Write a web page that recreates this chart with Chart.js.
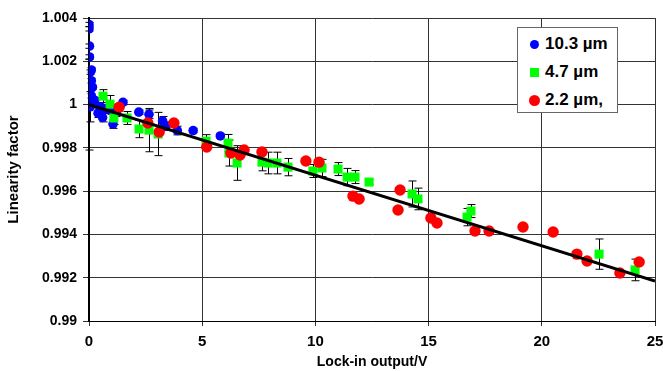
<!DOCTYPE html>
<html>
<head>
<meta charset="utf-8">
<script src="https://cdn.jsdelivr.net/npm/chart.js@4"></script>
<style>
body{margin:0;background:#fff;}
#wrap{position:relative;width:663px;height:371px;}
#legend{position:absolute;left:517px;top:27px;width:99px;height:84px;background:#fff;border:1px solid #666;
font:bold 17px "Liberation Sans",Arial,sans-serif;color:#000;}
#legend div{position:absolute;left:12px;height:20px;line-height:20px;white-space:nowrap;}
#legend span{display:inline-block;vertical-align:middle;margin-right:6px;}
</style>
</head>
<body>
<div id="wrap">
<canvas id="chart" width="663" height="371"></canvas>
<div id="legend">
<div style="top:6px"><span style="width:9px;height:9px;border-radius:50%;background:#0000ff"></span>10.3 µm</div>
<div style="top:34px"><span style="width:9px;height:9px;background:#00ff00"></span>4.7 µm</div>
<div style="top:62px"><span style="width:11px;height:11px;border-radius:50%;background:#ff0000;margin-left:-1px;margin-right:5px"></span>2.2 µm,</div>
</div>
</div>
<script>
// 10.3 um
const blueX = [0.0, 0.0, 0.02, 0.02, 0.1, 0.05, 0.1, 0.15, 0.1, 0.25, 0.02, 0.05, 0.4, 0.6, 0.5, 0.7, 0.95, 1.2, 1.06, 1.5, 2.2, 2.65, 3.25, 3.4, 3.9, 4.6, 5.8];
const blueY = [1.0037, 1.0035, 1.0027, 1.0022, 1.0016, 1.0015, 1.0011, 1.0008, 1.0004, 1.0002, 1.0000, 0.9999, 0.9996, 0.9994, 0.9999, 0.9998, 0.99975, 0.99965, 0.9991, 1.0001, 0.99965, 0.99955, 0.99925, 0.9990, 0.9988, 0.9988, 0.99855];
const blueErr = [0.0001, 0.0001, 0.0001, 0.0001, 0.0001, 0.0001, 0.0001, 0.0001, 0.0001, 0.0001, 0.0021, 0.0007, 0.0002, 0.0002, 0.0001, 0.0002, 0.0002, 0.0002, 0.0002, 0.0001, 0.0001, 0.0002, 0.0002, 0.0002, 0.0002, 0.0001, 0.0001];

// 4.7 um
const greenX = [0.62, 0.93, 1.10, 1.68, 2.21, 2.65, 3.05, 5.17, 6.14, 6.18, 6.54, 7.64, 7.91, 8.30, 8.79, 9.89, 10.29, 11.0, 11.4, 11.75, 12.37, 14.27, 14.53, 16.87, 16.7, 22.53, 24.12];
const greenY = [1.00039, 1.00002, 0.99938, 0.99938, 0.99887, 0.99882, 0.99864, 0.99831, 0.99822, 0.99776, 0.9973, 0.99734, 0.9973, 0.9973, 0.99711, 0.99693, 0.99707, 0.99702, 0.99665, 0.99665, 0.99642, 0.99587, 0.99564, 0.99508, 0.9948, 0.99309, 0.99236];
const greenErr = [0.0003, 0.0004, 0.0003, 0.0003, 0.0004, 0.001, 0.001, 0.0003, 0.0004, 0.0006, 0.0008, 0.0004, 0.0005, 0.0005, 0.0004, 0.0003, 0.0004, 0.0003, 0.0004, 0.0003, 0.0001, 0.0006, 0.0005, 0.0003, 0.0004, 0.0007, 0.0005];

// 2.2 um
const redX = [1.33, 2.6, 3.1, 3.75, 5.2, 6.27, 6.67, 6.85, 7.64, 9.58, 10.16, 11.66, 11.93, 13.74, 13.65, 15.1, 15.37, 17.05, 17.67, 19.17, 20.5, 21.55, 22.0, 23.45, 24.3];
const redY = [0.99988, 0.99915, 0.99873, 0.99915, 0.99804, 0.99776, 0.99767, 0.9979, 0.99781, 0.99739, 0.99734, 0.99577, 0.99564, 0.99605, 0.99513, 0.99476, 0.99453, 0.99416, 0.99416, 0.99434, 0.99411, 0.99309, 0.99277, 0.99222, 0.99273];

// fit line
const fitX = [0, 25];
const fitY = [1.0000, 0.99185];

const xTicks = [0, 5, 10, 15, 20, 25];
const yTicks = [0.99, 0.992, 0.994, 0.996, 0.998, 1.0, 1.002, 1.004];

const FONT = '"Liberation Sans", Arial, sans-serif';

function pts(xs, ys, errs){
  return xs.map((x, i) => ({x: x, y: ys[i], err: errs ? errs[i] : 0}));
}

/* error bars drawn with the chart's own scales */
const errorBars = {
  id: "errorBars",
  beforeDatasetsDraw(chart){
    const c = chart.ctx, xs = chart.scales.x, ys = chart.scales.y;
    c.save();
    c.strokeStyle = "#000";
    c.lineWidth = 1;
    chart.data.datasets.forEach(ds => {
      ds.data.forEach(p => {
        if(!p.err) return;
        const px = Math.round(xs.getPixelForValue(p.x)) + 0.5;
        const top = ys.getPixelForValue(p.y + p.err);
        const bot = ys.getPixelForValue(p.y - p.err);
        c.beginPath();
        c.moveTo(px, top); c.lineTo(px, bot);
        c.moveTo(px - 4, top); c.lineTo(px + 4, top);
        c.moveTo(px - 4, bot); c.lineTo(px + 4, bot);
        c.stroke();
      });
    });
    c.restore();
  }
};

new Chart(document.getElementById("chart"), {
  type: "scatter",
  data: {
    datasets: [
      {type: "line", label: "fit", data: pts(fitX, fitY), borderColor: "#000", borderWidth: 3, pointRadius: 0, order: 0},
      {label: "2.2 µm,", data: pts(redX, redY), backgroundColor: "#ff0000", borderWidth: 0, pointRadius: 5.7, order: 1},
      {label: "4.7 µm", data: pts(greenX, greenY, greenErr), backgroundColor: "#00ff00", borderWidth: 0, pointStyle: "rect", pointRadius: 6.4, order: 2},
      {label: "10.3 µm", data: pts(blueX, blueY, blueErr), backgroundColor: "#0000ff", borderWidth: 0, pointRadius: 4.8, order: 3}
    ]
  },
  options: {
    responsive: false,
    animation: false,
    layout: {padding: {left: 0, right: 0, top: 18, bottom: 0}},
    plugins: {legend: {display: false}, tooltip: {enabled: false}},
    scales: {
      x: {
        type: "linear", min: 0, max: 25,
        afterBuildTicks: s => { s.ticks = xTicks.map(v => ({value: v})); },
        afterFit: s => { s.height = 50; s.paddingRight = 8; s.paddingLeft = 0; },
        grid: {color: "#333", lineWidth: 1, tickLength: 5},
        border: {color: "#000", width: 1},
        ticks: {color: "#000", font: {family: FONT, size: 15, weight: "bold"}, padding: 7, maxRotation: 0},
        title: {display: true, text: "Lock-in output/V", color: "#000", font: {family: FONT, size: 14, weight: "bold"}, padding: {top: 0, bottom: 0}}
      },
      y: {
        min: 0.99, max: 1.004,
        afterBuildTicks: s => { s.ticks = yTicks.map(v => ({value: v})); },
        afterFit: s => { s.width = 89; },
        grid: {color: "#333", lineWidth: 1, tickLength: 6},
        border: {color: "#000", width: 2},
        ticks: {color: "#000", font: {family: FONT, size: 14, weight: "bold"}, padding: 6,
          callback: v => String(Number(v.toFixed(3)))},
        title: {display: true, text: "Linearity factor", color: "#000", font: {family: FONT, size: 15, weight: "bold"}, padding: {top: 5, bottom: 0}}
      }
    }
  },
  plugins: [errorBars]
});
</script>
</body>
</html>
